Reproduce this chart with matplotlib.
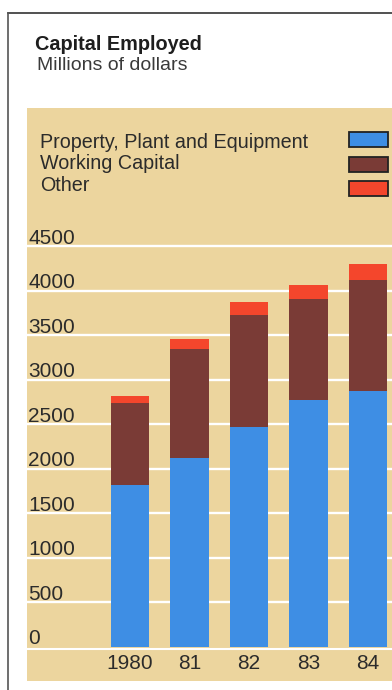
import matplotlib.pyplot as plt
import matplotlib.transforms as mtransforms
from matplotlib.patches import Rectangle
from matplotlib.lines import Line2D

plt.rcParams['font.family'] = ['Liberation Sans', 'DejaVu Sans']

years = ['1980', '81', '82', '83', '84']
ppe = [1820, 2120, 2475, 2780, 2875]
working = [920, 1230, 1260, 1130, 1250]
other = [75, 115, 140, 160, 180]
series_names = ['Property, Plant and Equipment', 'Working Capital', 'Other']
yticks = [0, 500, 1000, 1500, 2000, 2500, 3000, 3500, 4000, 4500]

beige = '#ECD59E'
blue = '#3E8EE4'
brown = '#7A3B36'
red = '#F4462C'
ink = '#2b2b2b'

fig = plt.figure(figsize=(3.92, 6.9), dpi=100)
ax = fig.add_axes([27/392, 9/690, 365/392, 573/690])
ax.set_facecolor(beige)
for s in ax.spines.values():
    s.set_visible(False)
ax.set_xticks([])
ax.set_yticks([])
ax.set_xlim(-1.731, 4.403)
ax.set_ylim(-382, 6056)

# white grid behind the bars
for v in yticks[1:]:
    ax.axhline(v, color='white', lw=1.7, zorder=1)
ax.axhline(-22, color='white', lw=1.5, zorder=1)

x = list(range(len(years)))
w = 0.64
ax.bar(x, ppe, w, color=blue, zorder=2)
ax.bar(x, working, w, bottom=ppe, color=brown, zorder=2)
b3 = [p + q for p, q in zip(ppe, working)]
ax.bar(x, other, w, bottom=b3, color=red, zorder=2)

# y labels sit just above their grid lines
lab_tr = mtransforms.offset_copy(ax.get_yaxis_transform(), fig=fig, x=0, y=2, units='points')
for v in yticks:
    ax.text(0.003, v, str(v), transform=lab_tr, ha='left', va='baseline',
            fontsize=15, color=ink, zorder=3)

# year labels in the bottom strip
for xi, yr in zip(x, years):
    ax.text(xi, -185, yr, ha='center', va='center', fontsize=15, color=ink)

# legend: names on the left, swatches at the right edge
txt_y = [0.9297, 0.893, 0.855]
box_y = [0.9314, 0.8878, 0.8464]
for name, ty, by, c in zip(series_names, txt_y, box_y, [blue, brown, red]):
    ax.text(0.0356, ty, name, transform=ax.transAxes, ha='left', va='baseline',
            fontsize=14.2, color=ink)
    ax.add_patch(Rectangle((0.883, by), 0.1068, 0.0262, transform=ax.transAxes,
                           facecolor=c, edgecolor='#222222', lw=1.3, zorder=4))

fig.text(35/392, (690-50)/690, 'Capital Employed', fontsize=14.3, fontweight='bold',
         color='#1e1e1e', ha='left', va='baseline')
fig.text(37/392, (690-69.5)/690, 'Millions of dollars', fontsize=14,
         color='#3a3a3a', ha='left', va='baseline')

# outer frame
fig.add_artist(Line2D([8/392, 1.0], [(690-13)/690, (690-13)/690], color='#333333', lw=1.2))
fig.add_artist(Line2D([8/392, 8/392], [0, (690-13)/690], color='#555555', lw=1.2))

fig.savefig('out.png', dpi=100)
